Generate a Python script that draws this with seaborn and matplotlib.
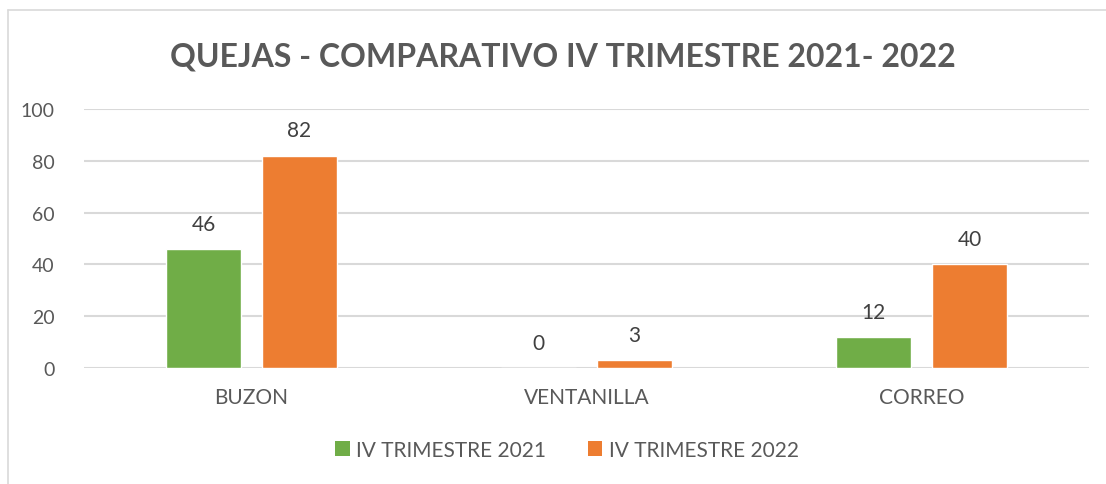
import matplotlib
matplotlib.use("Agg")
import matplotlib.pyplot as plt
import seaborn as sns
import pandas as pd
from matplotlib.lines import Line2D
from matplotlib.patches import Patch

categories = ["BUZON", "VENTANILLA", "CORREO"]
series_names = ["IV TRIMESTRE 2021", "IV TRIMESTRE 2022"]
values_2021 = [46, 0, 12]
values_2022 = [82, 3, 40]
yticks = [0, 20, 40, 60, 80, 100]
title = "QUEJAS - COMPARATIVO IV TRIMESTRE 2021- 2022"
colors = ["#70AD47", "#ED7D31"]

df = pd.DataFrame({
    "cat": categories * 2,
    "serie": [series_names[0]] * 3 + [series_names[1]] * 3,
    "val": values_2021 + values_2022,
})

sns.set_theme(style="white")
plt.rcParams["font.family"] = ["Lato", "DejaVu Sans"]
txt = "#595959"

fig = plt.figure(figsize=(11.06, 4.85), dpi=100)
ax = fig.add_axes([84 / 1106, 1 - 369 / 485, 1005 / 1106, 259 / 485])

sns.barplot(data=df, x="cat", y="val", hue="serie", palette=colors,
            width=0.573, gap=0.218, ax=ax, legend=False, saturation=1)

ax.set_ylim(0, 100)
ax.set_xlim(-0.5, 2.5)
ax.set_yticks(yticks)
ax.yaxis.grid(True, color="#D9D9D9", linewidth=1.5)
ax.set_axisbelow(True)
for s in ax.spines.values():
    s.set_visible(False)
ax.set_xlabel("")
ax.set_ylabel("")
ax.tick_params(axis="y", labelsize=14, labelcolor=txt, length=0, pad=21)
ax.tick_params(axis="x", labelsize=15, labelcolor=txt, length=0, pad=14)

for cont in ax.containers:
    ax.bar_label(cont, labels=[f"{v:.0f}" for v in cont.datavalues],
                 padding=11, fontsize=15, color="#404040")

fig.text(563 / 1106, 1 - 57 / 485, title, ha="center", va="center",
         fontsize=23, fontweight="bold", color=txt)

handles = [Patch(facecolor=c, edgecolor="none") for c in colors]
fig.legend(handles, series_names, loc="center", bbox_to_anchor=(567 / 1106, 1 - 451 / 485),
           ncol=2, frameon=False, fontsize=15, labelcolor=txt,
           handlelength=0.7, handleheight=0.7, handletextpad=0.3, columnspacing=2.0)

fig.add_artist(Line2D([8 / 1106, 8 / 1106], [0, 1 - 11 / 485], transform=fig.transFigure,
                      color="#D9D9D9", linewidth=1.2))
fig.add_artist(Line2D([8 / 1106, 1], [1 - 11 / 485, 1 - 11 / 485], transform=fig.transFigure,
                      color="#D9D9D9", linewidth=1.2))

fig.savefig("out.png", dpi=100, facecolor="white")
